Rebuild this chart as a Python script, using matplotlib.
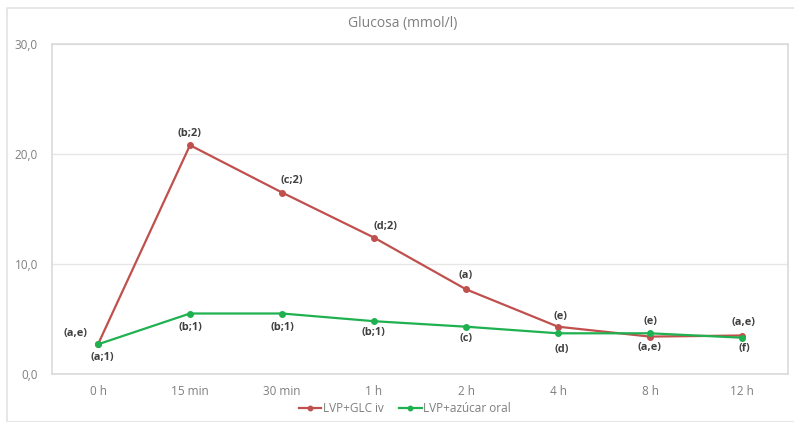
import matplotlib
matplotlib.use("Agg")
from matplotlib import pyplot as plt
from matplotlib.patches import Rectangle

plt.rcParams["font.family"] = ["Open Sans", "DejaVu Sans"]

# data
tiempos = ["0 h", "15 min", "30 min", "1 h", "2 h", "4 h", "8 h", "12 h"]
glc_iv = [2.7, 20.8, 16.5, 12.4, 7.7, 4.3, 3.4, 3.5]
azucar_oral = [2.7, 5.5, 5.5, 4.8, 4.3, 3.7, 3.7, 3.3]
etiq_iv = ["(a,e)", "(b;2)", "(c;2)", "(d;2)", "(a)", "(e)", "(a,e)", "(a,e)"]
etiq_oral = ["(a;1)", "(b;1)", "(b;1)", "(b;1)", "(c)", "(d)", "(e)", "(f)"]
yticks = [0, 10, 20, 30]

# label offsets in pixels
off_iv = [(-22, 11), (0, 12), (10, 12), (11, 11), (0, 14), (3, 10), (0, -11), (2, 13)]
off_oral = [(4, -13), (0, -14), (0, -14), (-1, -11), (0, -12), (4, -16), (0, 12), (2, -11)]

rojo = "#c0504d"
verde = "#1fb150"

fig = plt.figure(figsize=(7.94, 4.22), dpi=100)
fig.patches.append(Rectangle((7 / 794, 0), 1, 1 - 8 / 422, transform=fig.transFigure,
                             fill=False, edgecolor="#e3e3e3", linewidth=1.2))
ax = fig.add_axes([52 / 794, 1 - 374 / 422, 736 / 794, 330 / 422])

x = list(range(len(tiempos)))
ax.plot(x, glc_iv, color=rojo, linewidth=1.6, marker="o", markersize=4, label="LVP+GLC iv", zorder=3)
ax.plot(x, azucar_oral, color=verde, linewidth=1.6, marker="o", markersize=4, label="LVP+azúcar oral", zorder=4)

for i in x:
    ax.annotate(etiq_iv[i], (x[i], glc_iv[i]), xytext=off_iv[i], textcoords="offset pixels",
                ha="center", va="center", fontsize=7.9, fontweight="bold", color="#404040")
    ax.annotate(etiq_oral[i], (x[i], azucar_oral[i]), xytext=off_oral[i], textcoords="offset pixels",
                ha="center", va="center", fontsize=7.9, fontweight="bold", color="#404040")

ax.set_xlim(-0.5, len(tiempos) - 0.5)
ax.set_ylim(0, 30)
ax.set_xticks(x)
ax.set_xticklabels(tiempos)
ax.set_yticks(yticks)
ax.set_yticklabels([f"{v:.1f}".replace(".", ",") for v in yticks])
ax.tick_params(length=0, labelsize=8.5, labelcolor="#7f7f7f", pad=8)
ax.tick_params(axis="y", pad=10)
ax.grid(axis="y", color="#e6e6e6", linewidth=1)
ax.set_axisbelow(True)
for s in ["left", "bottom", "right", "top"]:
    ax.spines[s].set_color("#dadada")
    ax.spines[s].set_linewidth(1.2)

fig.text(0.507, 1 - 24 / 422, "Glucosa (mmol/l)", ha="center", va="center", fontsize=10, color="#7f7f7f")
fig.legend(loc="center", bbox_to_anchor=(0.51, 1 - 409 / 422), ncol=2, frameon=False,
           fontsize=8.5, labelcolor="#7f7f7f", handlelength=1.9, handletextpad=0.15,
           columnspacing=1.3, markerscale=0.8)

fig.savefig("out.png", dpi=100)
